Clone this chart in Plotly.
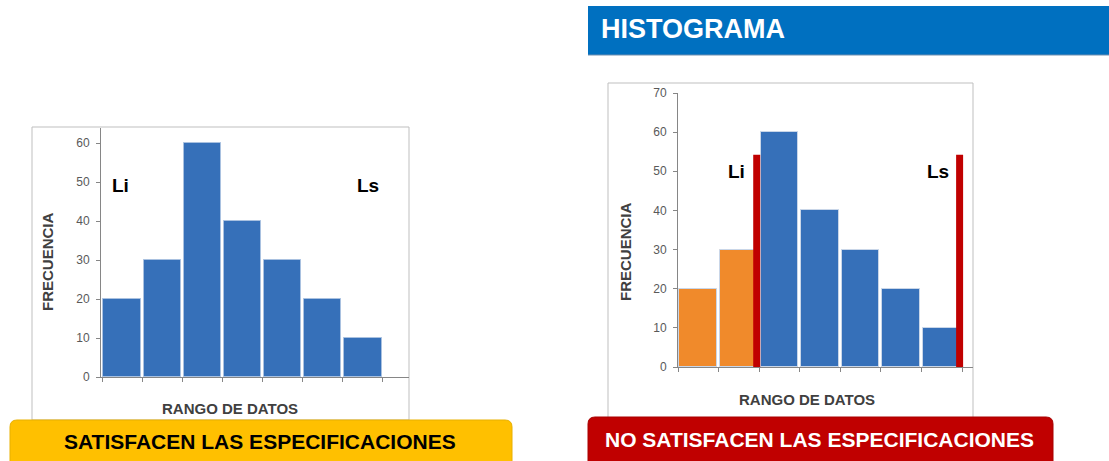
import plotly.graph_objects as go

W, H = 1109, 461

# ---- data ----
categories = ["C1", "C2", "C3", "C4", "C5", "C6", "C7"]
freq_ok = [20, 30, 60, 40, 30, 20, 10]
freq_bad = [20, 30, 60, 40, 30, 20, 10]
li_pos_bad = 1.44      # lower specification limit (category index units)
ls_pos_bad = 6.44      # upper specification limit
limit_height = 54.2
y_ticks_left = [0, 10, 20, 30, 40, 50, 60]
y_ticks_right = [0, 10, 20, 30, 40, 50, 60, 70]

BLUE = "#3670B9"
ORANGE = "#F08A2B"
RED = "#C00000"
AXIS = "#868686"


def px(x):
    return x / W


def py(y):
    return 1 - y / H


def rounded(x0, y0, x1, y1, r):
    rx, ry = r / W, r / H
    X0, X1 = px(x0), px(x1)
    Y0, Y1 = py(y0), py(y1)  # Y0 top (bigger), Y1 bottom
    return (f"M {X0+rx},{Y0} L {X1-rx},{Y0} Q {X1},{Y0} {X1},{Y0-ry} "
            f"L {X1},{Y1+ry} Q {X1},{Y1} {X1-rx},{Y1} L {X0+rx},{Y1} "
            f"Q {X0},{Y1} {X0},{Y1+ry} L {X0},{Y0-ry} Q {X0},{Y0} {X0+rx},{Y0} Z")


fig = go.Figure()

fig.add_trace(go.Bar(
    x=categories, y=freq_ok, xaxis="x", yaxis="y",
    marker=dict(color=BLUE, line=dict(color="#A9C1E0", width=1)),
    width=0.93, showlegend=False, hoverinfo="x+y"))

colors_bad = [ORANGE if i < li_pos_bad else BLUE for i in range(len(categories))]
fig.add_trace(go.Bar(
    x=categories, y=freq_bad, xaxis="x2", yaxis="y2",
    marker=dict(color=colors_bad, line=dict(color="#C9D6E8", width=1)),
    width=0.93, showlegend=False, hoverinfo="x+y"))

axis_common = dict(showline=True, linecolor=AXIS, linewidth=1, showgrid=False,
                   zeroline=False, ticks="outside", tickcolor=AXIS, ticklen=4,
                   automargin=False)

fig.update_layout(
    template="none",
    width=W, height=H, margin=dict(l=0, r=0, t=0, b=0, pad=0, autoexpand=False),
    paper_bgcolor="white", plot_bgcolor="rgba(0,0,0,0)",
    bargap=0,
    xaxis=dict(domain=[px(101), px(409)], range=[-0.525, 7.15], type="category",
               tickson="boundaries", showticklabels=False, anchor="y",
               categoryorder="array", categoryarray=categories, **axis_common),
    yaxis=dict(domain=[py(377), py(128)], range=[0, 63.85], tickvals=y_ticks_left,
               anchor="x", ticklabelstandoff=4,
               tickfont=dict(family="Liberation Sans, Arial", size=12, color="#595959"),
               **axis_common),
    xaxis2=dict(domain=[px(678), px(973)], range=[-0.5, 6.77], type="category",
                tickson="boundaries", showticklabels=False, anchor="y2",
                categoryorder="array", categoryarray=categories, **axis_common),
    yaxis2=dict(domain=[py(367), py(93)], range=[0, 70], tickvals=y_ticks_right,
                anchor="x2", ticklabelstandoff=4,
                tickfont=dict(family="Liberation Sans, Arial", size=12, color="#595959"),
                **axis_common),
)

shapes = []
# chart frames
shapes.append(dict(type="rect", xref="paper", yref="paper", x0=px(32), x1=px(409),
                   y0=py(420), y1=py(127), line=dict(color="#BFBFBF", width=1),
                   fillcolor="rgba(0,0,0,0)", layer="below"))
shapes.append(dict(type="rect", xref="paper", yref="paper", x0=px(608), x1=px(973),
                   y0=py(418), y1=py(83), line=dict(color="#BFBFBF", width=1),
                   fillcolor="rgba(0,0,0,0)", layer="below"))
# header
shapes.append(dict(type="rect", xref="paper", yref="paper", x0=px(588), x1=1,
                   y0=py(55), y1=py(6), line=dict(width=0), fillcolor="#0070C0"))
shapes.append(dict(type="line", xref="paper", yref="paper", x0=px(588), x1=1,
                   y0=py(55), y1=py(55), line=dict(color="#6F8FB0", width=1)))
# spec limit lines
for xpos in (li_pos_bad, ls_pos_bad):
    shapes.append(dict(type="line", xref="x2", yref="y2", x0=xpos, x1=xpos,
                       y0=-0.8, y1=limit_height, line=dict(color=RED, width=7)))
# banners
shapes.append(dict(type="path", xref="paper", yref="paper",
                   path=rounded(10, 420, 512, 470, 7), fillcolor="#FFC000",
                   line=dict(color="#E8B000", width=1)))
shapes.append(dict(type="path", xref="paper", yref="paper",
                   path=rounded(588, 417, 1053, 470, 7), fillcolor=RED,
                   line=dict(color="#A80000", width=1)))
fig.update_layout(shapes=shapes)

ann = []


def note(text, x, y, font, xref="paper", yref="paper", angle=0, xanchor="center"):
    ann.append(dict(text=text, x=x, y=y, xref=xref, yref=yref, textangle=angle,
                    xanchor=xanchor, yanchor="middle", showarrow=False, font=font))


lbl_font = dict(family="Liberation Sans, Arial", size=15, color="#404040")
note("<b>FRECUENCIA</b>", px(47), py(262), lbl_font, angle=-90)
note("<b>FRECUENCIA</b>", px(626), py(252), lbl_font, angle=-90)
note("<b>RANGO DE DATOS</b>", px(230), py(408), lbl_font)
note("<b>RANGO DE DATOS</b>", px(807), py(399), lbl_font)
lim_font = dict(family="Liberation Sans, Arial", size=19, color="black")
note("<b>Li</b>", -0.04, 49.2, lim_font, "x", "y")
note("<b>Ls</b>", 6.13, 49.2, lim_font, "x", "y")
note("<b>Li</b>", 0.93, 49.9, lim_font, "x2", "y2")
note("<b>Ls</b>", 5.91, 49.9, lim_font, "x2", "y2")
note("<b>HISTOGRAMA</b>", px(599), py(29),
     dict(family="Liberation Sans, Arial", size=27, color="white"), xanchor="left")
note("<b>SATISFACEN LAS ESPECIFICACIONES</b>", px(260), py(441),
     dict(family="Liberation Sans, Arial", size=21, color="black"))
note("<b>NO SATISFACEN LAS ESPECIFICACIONES</b>", px(819), py(439),
     dict(family="Liberation Sans, Arial", size=21, color="white"))
fig.update_layout(annotations=ann)

fig.write_html("out.html")
